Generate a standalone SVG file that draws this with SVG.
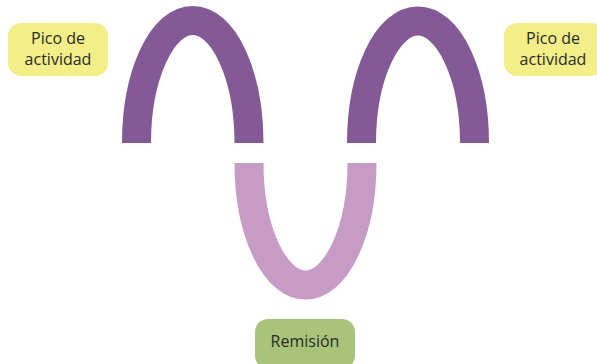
<svg xmlns="http://www.w3.org/2000/svg" width="597" height="364" viewBox="0 0 597 364">
<style>
.peak{fill:none;stroke:#835996;stroke-width:29}
.rem{fill:none;stroke:#C69BC6;stroke-width:29}
.ybox{fill:#F3EE88}
.gbox{fill:#A8C47A}
.lbl{font-family:"Open Sans","Noto Sans",sans-serif;font-size:16px;fill:#2a2a2a;text-anchor:middle}
</style>
<rect width="597" height="364" fill="#ffffff"/>
<g id="connectors">
<path class="peak" d="M136.5,143 A56,122 0 0 1 249,143"/>
<path class="peak" d="M361.5,143 A56.5,122 0 0 1 474.5,143"/>
<path class="rem" d="M249,163 A56.5,122 0 0 0 362,163"/>
</g>
<g id="pico-left">
<rect class="ybox" x="8" y="23" width="100" height="53" rx="13"/>
<text class="lbl" x="58" y="44">Pico de</text>
<text class="lbl" x="58" y="65">actividad</text>
</g>
<g id="pico-right">
<rect class="ybox" x="504" y="23" width="100" height="53" rx="13"/>
<text class="lbl" x="553" y="44">Pico de</text>
<text class="lbl" x="553" y="65">actividad</text>
</g>
<g id="remision">
<rect class="gbox" x="255" y="319" width="100" height="50" rx="13"/>
<text class="lbl" x="305" y="347">Remisión</text>
</g>
</svg>
